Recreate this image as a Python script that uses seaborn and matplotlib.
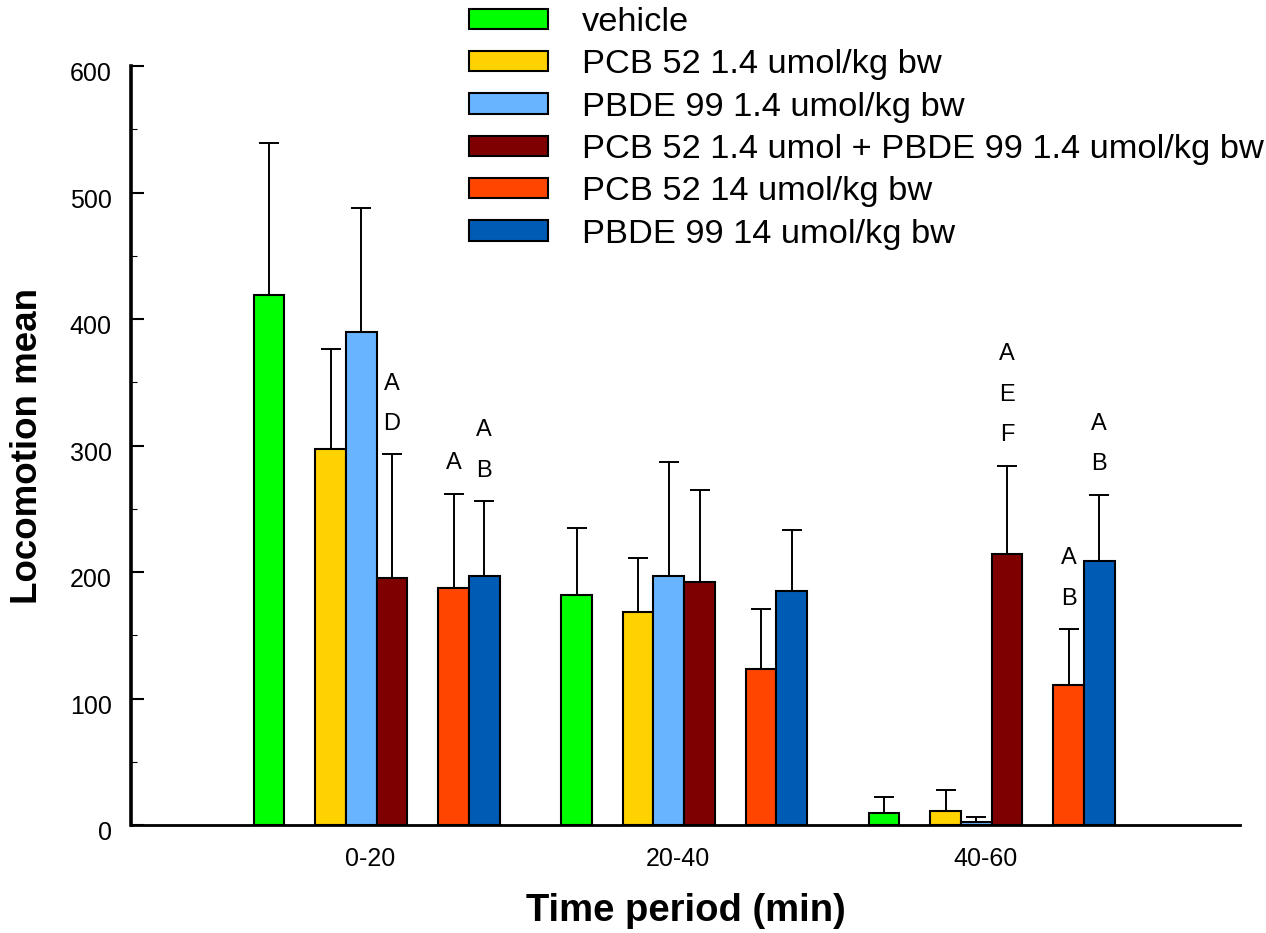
import numpy as np
import pandas as pd
import matplotlib
matplotlib.use("Agg")
import matplotlib.pyplot as plt
import seaborn as sns
from matplotlib.patches import Patch
from matplotlib.ticker import MultipleLocator
from matplotlib.transforms import ScaledTranslation

# ---------------- data ----------------
periods = ["0-20", "20-40", "40-60"]
series = [
    "vehicle",
    "PCB 52 1.4 umol/kg bw",
    "PBDE 99 1.4 umol/kg bw",
    "PCB 52 1.4 umol + PBDE 99 1.4 umol/kg bw",
    "PCB 52 14 umol/kg bw",
    "PBDE 99 14 umol/kg bw",
]
colors = ["#00ff00", "#ffd200", "#69b4ff", "#7f0000", "#ff4500", "#005bb5"]

mean_vehicle = [419, 182, 9.5]
mean_pcb_low = [297, 168, 11]
mean_pbde_low = [390, 197, 2.6]
mean_combo = [195, 192, 214]
mean_pcb_high = [187, 123, 111]
mean_pbde_high = [197, 185, 209]

sem_vehicle = [120, 53, 13]
sem_pcb_low = [79, 43, 16.5]
sem_pbde_low = [98, 90, 4]
sem_combo = [98, 73, 70]
sem_pcb_high = [75, 48, 44]
sem_pbde_high = [59, 48, 52]

# significance letters (per series, per period)
letters_vehicle = ["", "", ""]
letters_pcb_low = ["", "", ""]
letters_pbde_low = ["", "", ""]
letters_combo = ["AD", "", "AEF"]
letters_pcb_high = ["A", "", "AB"]
letters_pbde_high = ["AB", "", "AB"]

means = [mean_vehicle, mean_pcb_low, mean_pbde_low, mean_combo, mean_pcb_high, mean_pbde_high]
sems = [sem_vehicle, sem_pcb_low, sem_pbde_low, sem_combo, sem_pcb_high, sem_pbde_high]
letters = [letters_vehicle, letters_pcb_low, letters_pbde_low, letters_combo,
           letters_pcb_high, letters_pbde_high]

# layout: slot of each series within a group, group pitch
slots = [0, 2, 3, 4, 6, 7]
group_pitch = 10

rows = []
for si, s in enumerate(series):
    for gi, p in enumerate(periods):
        rows.append(dict(series=s, period=p, xpos=gi * group_pitch + slots[si],
                         mean=means[si][gi], sem=sems[si][gi], letters=letters[si][gi]))
df = pd.DataFrame(rows)

# ---------------- plot ----------------
sns.set_style("white")
plt.rcParams["font.family"] = ["Liberation Sans", "DejaVu Sans"]
plt.rcParams["text.color"] = "black"
plt.rcParams["axes.labelcolor"] = "black"
plt.rcParams["xtick.color"] = "black"
plt.rcParams["ytick.color"] = "black"

fig = plt.figure(figsize=(12.66, 9.33), dpi=100)
W, H = 1266, 933
ax_l, ax_r, ax_b, ax_t = 131, 1240, 825, 66
ax = fig.add_axes([ax_l / W, 1 - ax_b / H, (ax_r - ax_l) / W, (ax_b - ax_t) / H])

sns.barplot(data=df, x="xpos", y="mean", hue="series", hue_order=series,
            palette=colors, dodge=False, native_scale=True, width=1.0,
            errorbar=None, saturation=1, edgecolor="black", linewidth=1.5,
            legend=False, ax=ax)

ax.errorbar(df["xpos"], df["mean"], yerr=[np.zeros(len(df)), df["sem"]],
            fmt="none", ecolor="black", elinewidth=1.4, capsize=7.5,
            capthick=1.4, zorder=3)

# letters above error bars
for _, r in df.iterrows():
    if r["letters"]:
        top = r["mean"] + r["sem"]
        for k, ch in enumerate(reversed(r["letters"])):
            ax.text(r["xpos"], top + 24 + 32 * k, ch, ha="center", va="center",
                    fontsize=17, color="black")

# axes
x_first = (ax_l - 269) / 30.75
x_last = (ax_r - 269) / 30.75
ax.set_xlim(x_first, x_last)
ax.set_ylim(0, 600)
ax.set_xticks([3.3 + group_pitch * i for i in range(len(periods))])
ax.set_xticklabels(periods, fontsize=18)
ax.tick_params(axis="x", length=0, pad=16)
ax.yaxis.set_major_locator(MultipleLocator(100))
ax.yaxis.set_minor_locator(MultipleLocator(50))
ax.tick_params(axis="y", which="major", direction="in", length=9, width=1.5,
               labelsize=18, pad=14, left=True)
ax.tick_params(axis="y", which="minor", direction="in", length=4, width=0.8, left=True)
for lbl in ax.get_yticklabels():
    lbl.set_transform(lbl.get_transform() + ScaledTranslation(0, -4 / 72, fig.dpi_scale_trans))

for s in ["top", "right"]:
    ax.spines[s].set_visible(False)
ax.spines["left"].set_linewidth(2.6)
ax.spines["bottom"].set_linewidth(2.0)
ax.spines["left"].set_color("black")
ax.spines["bottom"].set_color("black")

ax.set_xlabel("Time period (min)", fontsize=27.5, fontweight="bold", va="center")
ax.set_ylabel("Locomotion mean", fontsize=26.5, fontweight="bold", va="center")
ax.xaxis.set_label_coords(0.5, (ax_b - 911) / (ax_b - ax_t))
ax.yaxis.set_label_coords((28 - ax_l) / (ax_r - ax_l), 0.5)

handles = [Patch(facecolor=c, edgecolor="black", linewidth=1.5) for c in colors]
fig.legend(handles, series, loc="upper left", bbox_to_anchor=(462 / W, 1 - 0 / H),
           frameon=False, fontsize=24.75, handlelength=2.3, handleheight=0.53,
           handletextpad=1.0, labelspacing=0.33, borderaxespad=0, borderpad=0.2)

fig.savefig("out.png", dpi=100)
